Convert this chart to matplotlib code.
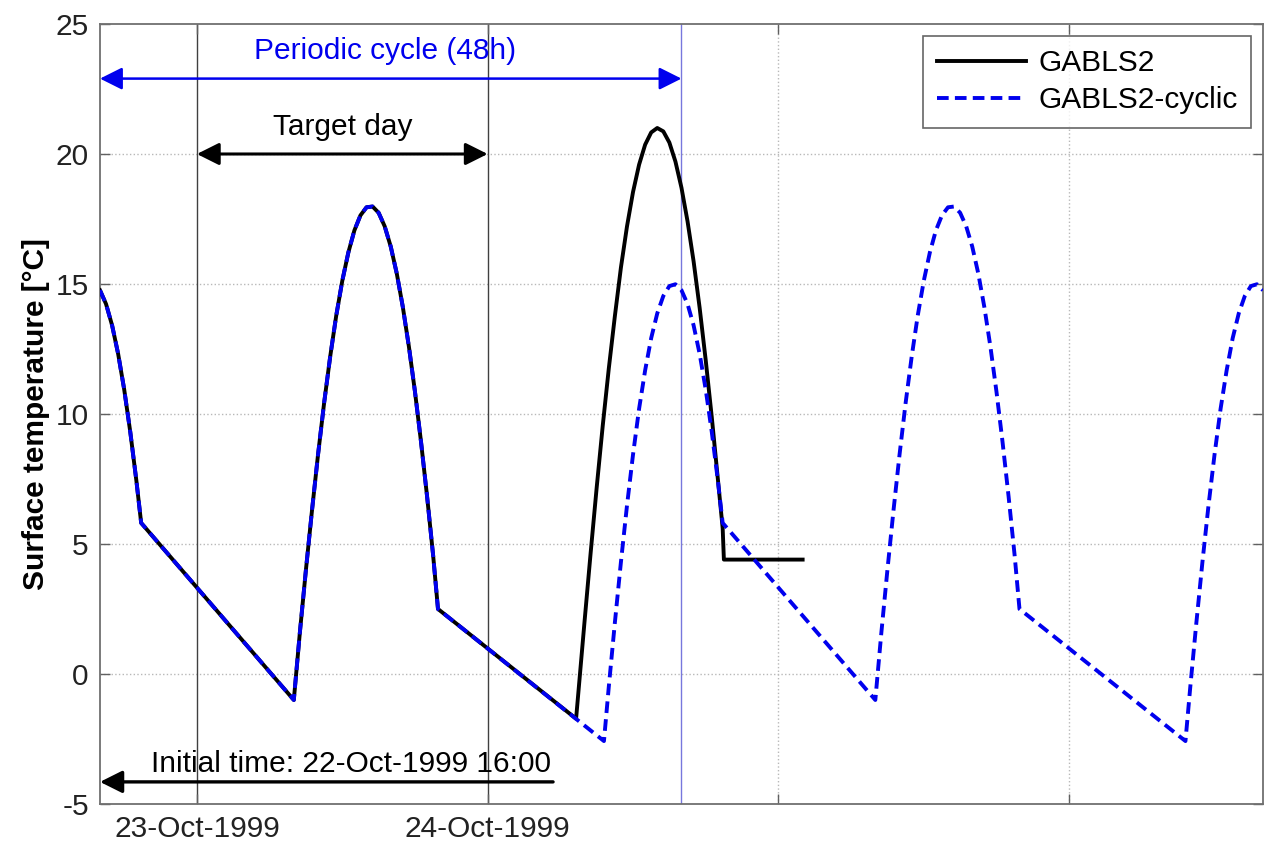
import matplotlib
matplotlib.use('Agg')
import matplotlib.pyplot as plt

plt.rcParams['font.family'] = ['Liberation Sans', 'DejaVu Sans']
plt.rcParams['axes.unicode_minus'] = False

# hours since 22-Oct-1999 16:00
gabls2_h = [0, 0.5, 1, 1.5, 2, 2.5, 3, 3.4, 16,
            16.5, 17, 17.5, 18, 18.5, 19, 19.5, 20, 20.5, 21, 21.5, 22, 22.5,
            23, 23.5, 24, 24.5, 25, 25.5, 26, 26.5, 27, 27.5, 27.9,
            39.3, 40, 40.5, 41, 41.5, 42, 42.5, 43, 43.5, 44, 44.5, 45, 45.5,
            46, 46.5, 47, 47.5, 48, 48.5, 49, 49.5, 50, 50.5, 51, 51.4, 51.5, 58.0]
gabls2_t = [14.76, 14.23, 13.41, 12.31, 10.94, 9.31, 7.45, 5.81, -1.0,
            1.60, 4.01, 6.29, 8.44, 10.42, 12.20, 13.78, 15.12, 16.21, 17.06, 17.64, 17.95, 17.98,
            17.74, 17.22, 16.44, 15.40, 14.11, 12.59, 10.86, 8.93, 6.83, 4.56, 2.50,
            -1.72, 2.03, 4.65, 7.17, 9.55, 11.75, 13.76, 15.63, 17.21, 18.54, 19.59, 20.36, 20.83,
            21.0, 20.87, 20.44, 19.71, 18.70, 17.41, 15.87, 14.08, 12.07, 9.88, 7.51, 5.6, 4.4, 4.4]

cyclic_h = [0, 0.5, 1, 1.5, 2, 2.5, 3, 3.4, 16,
            16.5, 17, 17.5, 18, 18.5, 19, 19.5, 20, 20.5, 21, 21.5, 22, 22.5,
            23, 23.5, 24, 24.5, 25, 25.5, 26, 26.5, 27, 27.5, 27.9,
            41.6, 42, 42.5, 43, 43.5, 44, 44.5, 45, 45.5, 46, 46.5, 47, 47.5, 48,
            48.5, 49, 49.5, 50, 50.5, 51, 51.4, 64,
            64.5, 65, 65.5, 66, 66.5, 67, 67.5, 68, 68.5, 69, 69.5, 70, 70.5,
            71, 71.5, 72, 72.5, 73, 73.5, 74, 74.5, 75, 75.5, 75.9,
            89.6, 90, 90.5, 91, 91.5, 92, 92.5, 93, 93.5, 94, 94.5, 95, 95.5, 96]
cyclic_t = [14.76, 14.23, 13.41, 12.31, 10.94, 9.31, 7.45, 5.81, -1.0,
            1.60, 4.01, 6.29, 8.44, 10.42, 12.20, 13.78, 15.12, 16.21, 17.06, 17.64, 17.95, 17.98,
            17.74, 17.22, 16.44, 15.40, 14.11, 12.59, 10.86, 8.93, 6.83, 4.56, 2.50,
            -2.58, -0.49, 1.97, 4.30, 6.47, 8.44, 10.20, 11.68, 12.92, 13.87, 14.54, 14.92, 14.99, 14.76,
            14.23, 13.41, 12.31, 10.94, 9.31, 7.45, 5.81, -1.0,
            1.60, 4.01, 6.29, 8.44, 10.42, 12.20, 13.78, 15.12, 16.21, 17.06, 17.64, 17.95, 17.98,
            17.74, 17.22, 16.44, 15.40, 14.11, 12.59, 10.86, 8.93, 6.83, 4.56, 2.50,
            -2.58, -0.49, 1.97, 4.30, 6.47, 8.44, 10.20, 11.68, 12.92, 13.87, 14.54, 14.92, 14.99, 14.76]

xtick_h = [8, 32, 56, 80]
xtick_labels = ['23-Oct-1999', '24-Oct-1999', '', '']
yticks = [-5, 0, 5, 10, 15, 20, 25]

target_day = (8, 32)
cycle_end = 48

fig = plt.figure(figsize=(12.64, 8.48), dpi=100)
ax = fig.add_axes([0.0791, 0.0519, 0.9201, 0.9198])

fs = 21.5
gridc = '#b8b8b8'
blue = '#0000ee'

# grid (dotted like matlab)
for y in yticks[1:-1]:
    ax.axhline(y, color=gridc, lw=1.0, ls=':', zorder=0)
for x in xtick_h[2:]:
    ax.axvline(x, color=gridc, lw=1.0, ls=':', zorder=0)

# target day and cycle markers
for x in target_day:
    ax.axvline(x, color='#404040', lw=1.0, zorder=1)
ax.axvline(cycle_end, color='#7777dd', lw=1.0, zorder=1)

ax.plot(gabls2_h, gabls2_t, color='black', lw=2.8, label='GABLS2', zorder=3)
ax.plot(cyclic_h, cyclic_t, color=blue, lw=2.8, dashes=(3.0, 1.6),
        label='GABLS2-cyclic', zorder=4)

# annotations
ax.annotate('', xy=(0, 22.9), xytext=(cycle_end, 22.9),
            arrowprops=dict(arrowstyle='<|-|>', color=blue, lw=1.8,
                            mutation_scale=34, shrinkA=0, shrinkB=0))
ax.text(23.5, 23.95, 'Periodic cycle (48h)', color=blue, fontsize=fs,
        ha='center', va='center')

ax.annotate('', xy=(target_day[0], 20), xytext=(target_day[1], 20),
            arrowprops=dict(arrowstyle='<|-|>', color='black', lw=2.2,
                            mutation_scale=34, shrinkA=0, shrinkB=0))
ax.text(20.0, 21.05, 'Target day', color='black', fontsize=fs,
        ha='center', va='center')

ax.annotate('', xy=(0, -4.15), xytext=(37.4, -4.15),
            arrowprops=dict(arrowstyle='-|>', color='black', lw=2.4,
                            mutation_scale=34, shrinkA=0, shrinkB=0))
ax.text(4.2, -3.45, 'Initial time: 22-Oct-1999 16:00', color='black',
        fontsize=fs, ha='left', va='center')

ax.set_xlim(0, 96)
ax.set_ylim(-5, 25)
ax.set_xticks(xtick_h)
ax.set_xticklabels(xtick_labels)
ax.set_yticks(yticks)
ax.tick_params(direction='in', length=7, width=1.0, color='#606060',
               labelsize=fs, labelcolor='#222222', top=True, right=True, pad=8)
for s in ax.spines.values():
    s.set_color('#707070')
    s.set_linewidth(1.3)

ax.set_ylabel('Surface temperature [°C]', fontsize=fs, fontweight='bold',
              labelpad=4)

leg = ax.legend(loc='upper right', fontsize=fs, handlelength=3.0,
                frameon=True, fancybox=False, borderaxespad=0.4,
                borderpad=0.45, labelspacing=0.3, handletextpad=0.4)
leg.get_frame().set_edgecolor('#404040')
leg.get_frame().set_linewidth(1.2)

fig.savefig('out.png', dpi=100)
